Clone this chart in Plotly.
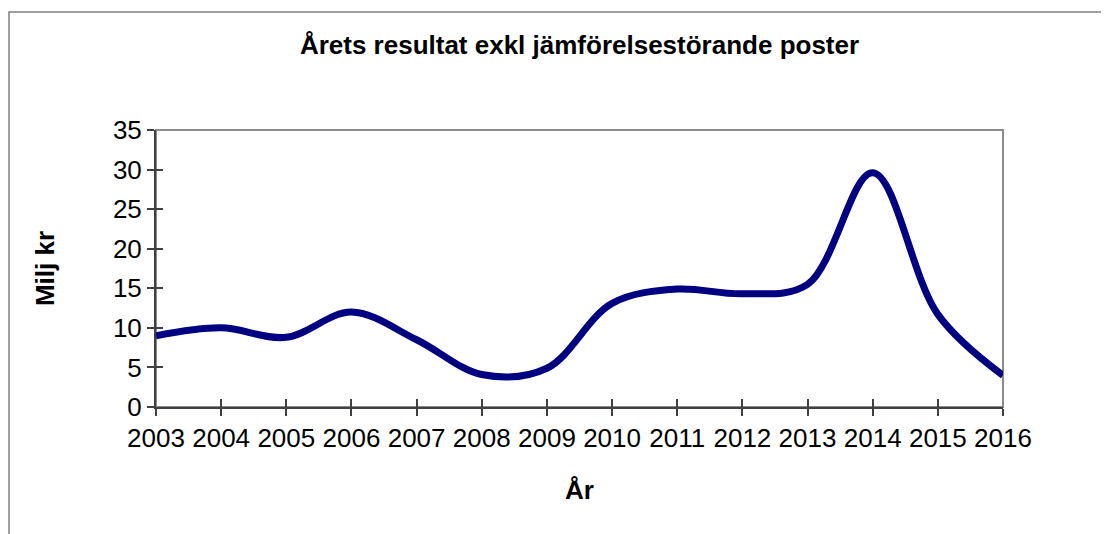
import plotly.graph_objects as go

years = [2003, 2004, 2005, 2006, 2007, 2008, 2009, 2010, 2011, 2012, 2013, 2014, 2015, 2016]
result = [9.0, 10.0, 8.8, 12.0, 8.5, 4.1, 4.9, 13.1, 14.9, 14.3, 15.5, 29.6, 11.7, 4.0]
y_ticks = [0, 5, 10, 15, 20, 25, 30, 35]

W, H = 1109, 534
# the page body adds an 8px offset, so the plot box is placed 8px up/left of the target
off = 8
L, T = 156 - off, 130 - off
R, B = W - (1003 - off), H - (407 - off)
pw, ph = W - L - R, H - T - B

font = "Liberation Sans, Arial, sans-serif"

fig = go.Figure()
fig.add_trace(go.Scatter(x=years, y=result, mode="lines",
                         line=dict(color="#000080", width=7, shape="spline", smoothing=1),
                         showlegend=False, hoverinfo="x+y"))
# invisible trace on the overlay axes so inward tick marks get drawn
fig.add_trace(go.Scatter(x=years, y=result, xaxis="x2", yaxis="y2", mode="none",
                         showlegend=False, hoverinfo="skip"))

axis_common = dict(showgrid=False, zeroline=False, linecolor="#404040", linewidth=2,
                   tickcolor="#404040", tickwidth=1.5,
                   tickfont=dict(family=font, size=26, color="black"))

fig.update_layout(
    width=W, height=H,
    margin=dict(l=L, r=R, t=T, b=B),
    paper_bgcolor="white", plot_bgcolor="white",
    title=dict(text="<b>Årets resultat exkl jämförelsestörande poster</b>",
               x=0.5, xref="paper", y=1 - (45 - off) / H, yanchor="middle",
               font=dict(family=font, size=26, color="black")),
    xaxis=dict(range=[2003, 2016], tickvals=years, ticks="outside", ticklen=7,
               title=dict(text="<b>År</b>", font=dict(family=font, size=26, color="black"), standoff=29),
               **axis_common),
    yaxis=dict(range=[0, 35], tickvals=y_ticks, ticks="outside", ticklen=7,
               title=dict(text="<b>Milj kr</b>", font=dict(family=font, size=26, color="black"), standoff=51),
               **axis_common),
    xaxis2=dict(overlaying="x", matches="x", range=[2003, 2016], tickvals=years, ticks="inside",
                ticklen=8, tickcolor="#404040", tickwidth=1.5, showticklabels=False,
                showgrid=False, zeroline=False, showline=False, side="bottom", anchor="y2"),
    yaxis2=dict(overlaying="y", matches="y", range=[0, 35], tickvals=y_ticks, ticks="inside",
                ticklen=7, tickcolor="#404040", tickwidth=1.5, showticklabels=False,
                showgrid=False, zeroline=False, showline=False, side="left", anchor="x2"),
    shapes=[
        # plot area frame (top / right visible in gray)
        dict(type="rect", xref="paper", yref="paper", x0=0, y0=0, x1=1, y1=1,
             line=dict(color="#8c8c8c", width=2), layer="below"),
        # chart area frame, runs off the right and bottom of the picture
        dict(type="rect", xref="paper", yref="paper",
             x0=(1 - L) / pw, x1=(W + 20 - L) / pw,
             y0=-(B + 20) / ph, y1=1 + (T - 4) / ph,
             line=dict(color="#808080", width=1.5), layer="below"),
    ],
)

fig.write_html("out.html")
